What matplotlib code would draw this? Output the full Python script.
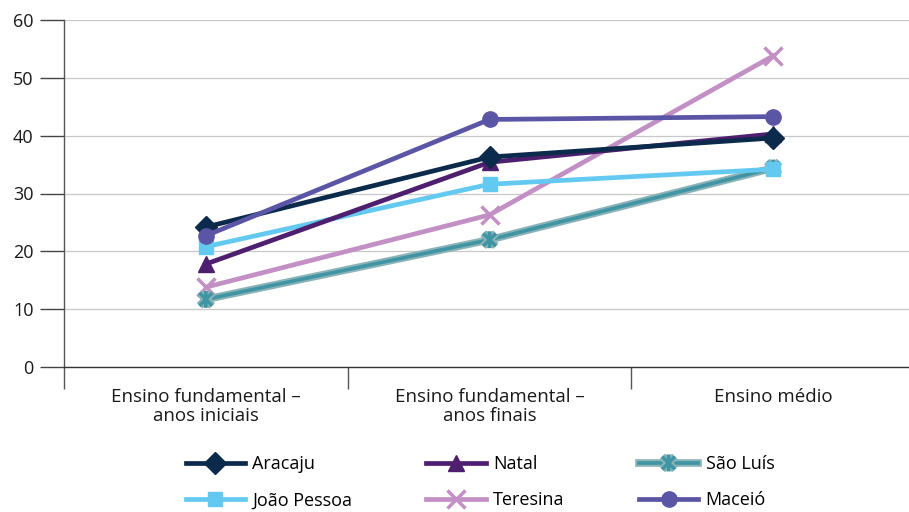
import matplotlib
matplotlib.use("Agg")
import matplotlib.pyplot as plt
from matplotlib.path import Path
import matplotlib.patheffects as pe
import numpy as np

plt.rcParams['font.family'] = ['Open Sans', 'DejaVu Sans']

categories = ["Ensino fundamental –\nanos iniciais", "Ensino fundamental –\nanos finais", "Ensino médio"]
aracaju = [24.2, 36.3, 39.6]
natal = [17.8, 35.4, 40.3]
sao_luis = [11.7, 22.0, 34.4]
joao_pessoa = [20.8, 31.6, 34.2]
teresina = [13.8, 26.3, 53.8]
maceio = [22.7, 42.8, 43.3]

# asterisk marker: X plus a vertical bar
ast = Path([(-1, -1), (1, 1), (-1, 1), (1, -1), (0, -1.3), (0, 1.3)],
           [Path.MOVETO, Path.LINETO, Path.MOVETO, Path.LINETO, Path.MOVETO, Path.LINETO])

fig = plt.figure(figsize=(9.09, 5.12), dpi=100)
ax = fig.add_axes([64/909, 1-367/512, 851/909, (367-20)/512])

x = np.arange(len(categories))
series = [
    ("Aracaju", aracaju, "#0c2a4b", "D", 11, None),
    ("João Pessoa", joao_pessoa, "#64c9f0", "s", 10.5, None),
    ("Natal", natal, "#4f1f6f", "^", 12, None),
    ("Teresina", teresina, "#c290c4", "x", 13, None),
    ("São Luís", sao_luis, "#3f95a3", ast, 12, "#8bb3b7"),
    ("Maceió", maceio, "#5b55a6", "o", 11, None),
]

handles = {}
draw_order = ["Teresina", "São Luís", "João Pessoa", "Natal", "Aracaju", "Maceió"]
zmap = {n: i for i, n in enumerate(draw_order)}
for name, vals, col, mk, ms, outline in series:
    kw = {}
    if outline:
        kw['path_effects'] = [pe.Stroke(linewidth=5.5, foreground=outline), pe.Normal()]
        lw = 2.6
    else:
        lw = 3.4
    thin = (mk == "x") or (mk is ast)
    ln, = ax.plot(x, vals, color=col, lw=lw, marker=mk, ms=ms, mew=2.5 if thin else 1,
                  mfc=col, mec=col, label=name, zorder=3 + zmap[name], clip_on=False, **kw)
    handles[name] = ln

ax.set_xlim(-0.5, 2.5)
ax.set_ylim(0, 60)
ax.set_yticks(range(0, 61, 10))
ax.set_xticks([-0.5, 0.5, 1.5, 2.5])
ax.set_xticklabels([])
ax.set_xticks(x, minor=True)
ax.set_xticklabels(categories, minor=True, fontsize=13.5, color="#1a1a1a", linespacing=1.05)
ax.tick_params(axis='x', which='minor', length=0, pad=15)
ax.tick_params(axis='x', which='major', length=16, width=1, color="#555555", direction='out')
ax.tick_params(axis='y', length=17, width=1, color="#444444", labelsize=13, labelcolor="#1a1a1a", pad=5)
ax.grid(axis='y', color="#c8c8c8", lw=0.9)
ax.set_axisbelow(True)
for s in ("top", "right"):
    ax.spines[s].set_visible(False)
ax.spines['left'].set_color("#555555")
ax.spines['bottom'].set_color("#333333")
ax.spines['left'].set_linewidth(1)
ax.spines['bottom'].set_linewidth(1)

order = ["Aracaju", "João Pessoa", "Natal", "Teresina", "São Luís", "Maceió"]
fig.legend([handles[n] for n in order], order, loc='center', bbox_to_anchor=(0.528, 0.058),
           ncol=3, frameon=False, fontsize=13, handlelength=3.3, columnspacing=4.1,
           labelspacing=1.0, handletextpad=0.4)

fig.savefig("out.png", dpi=100)
